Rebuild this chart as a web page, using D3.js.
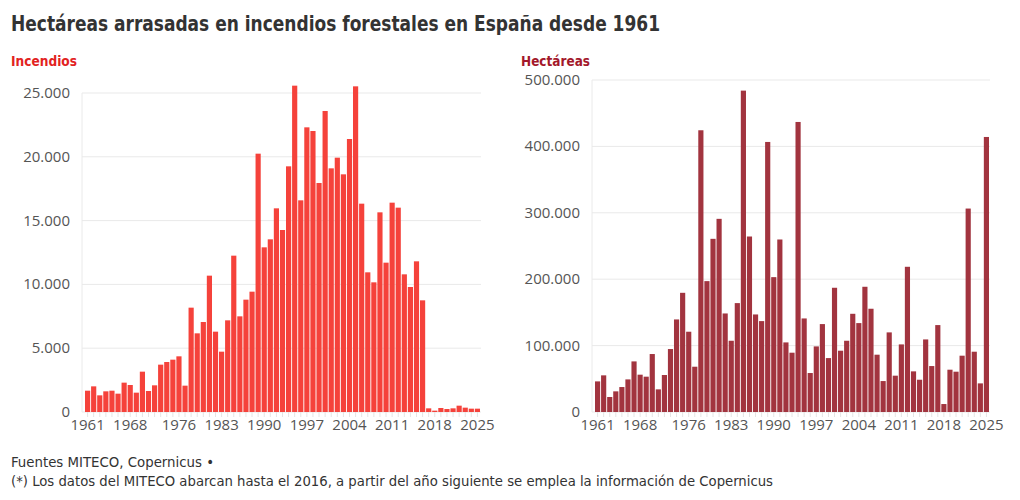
<!DOCTYPE html>
<html>
<head>
<meta charset="utf-8">
<script src="https://cdn.jsdelivr.net/npm/d3@7"></script>
<style>
  body { margin: 0; background: #fff; }
  svg { display: block; }
  .title { font-family: "Liberation Sans Narrow", "DejaVu Sans Condensed", sans-serif; font-weight: bold; font-size: 22px; fill: #333; }
  .sub { font-family: "Liberation Sans Narrow", "DejaVu Sans Condensed", sans-serif; font-weight: bold; font-size: 14.5px; }
  .note { font-family: "Liberation Sans Narrow", "DejaVu Sans Condensed", sans-serif; font-size: 14.5px; fill: #333; }
  .tick-label { font-family: "Open Sans", sans-serif; font-size: 15px; fill: #555; }
</style>
</head>
<body>
<svg id="chart" width="1020" height="500"></svg>
<script>
  // years 1961-2025
  var years = d3.range(1961, 2026);
  var yearTicks = [1961, 1968, 1976, 1983, 1990, 1997, 2004, 2011, 2018, 2025];

  // number of fires per year
  var incendios = [
    1670, 2010, 1306, 1620, 1670, 1437, 2300, 2116, 1515, 3161,
    1646, 2090, 3710, 3918, 4101, 4363, 2064, 8177, 6165, 7053,
    10685, 6296, 4728, 7184, 12252, 7497, 8804, 9430, 20245, 12905,
    13532, 15961, 14263, 19253, 25575, 16588, 22309, 22022, 17947, 23590,
    19096, 19932, 18626, 21395, 25522, 16327, 10946, 10162, 15648, 11703,
    16405, 16014, 10789, 9796, 11808, 8751, 287, 105, 313, 235,
    287, 496, 340, 261, 261
  ];

  // hectares burned per year
  var hectareas = [
    46100, 55200, 22600, 31100, 37600, 49100, 76200, 56200, 53200, 87300,
    34100, 55700, 94800, 139400, 179500, 120900, 68200, 424300, 197100, 260800,
    290900, 148400, 107300, 164000, 484000, 264300, 146900, 136900, 406700, 203100,
    259800, 104800, 89300, 436800, 140900, 58700, 98800, 132400, 81200, 187100,
    92300, 107300, 147900, 133900, 188600, 155500, 86300, 46600, 119900, 54700,
    101800, 218700, 61200, 48600, 109300, 69200, 130900, 12000, 63700, 60700,
    84800, 306400, 90800, 43100, 414200
  ];

  var leftTicks = [0, 5000, 10000, 15000, 20000, 25000];
  var rightTicks = [0, 100000, 200000, 300000, 400000, 500000];

  var locale = d3.formatLocale({decimal: ",", thousands: ".", grouping: [3], currency: ["", " €"]});
  var fmt = locale.format(",d");

  var svg = d3.select('#chart');

  svg.append('text').attr('class', 'title').attr('x', 11).attr('y', 31)
    .attr('textLength', 649).attr('lengthAdjust', 'spacingAndGlyphs')
    .text('Hectáreas arrasadas en incendios forestales en España desde 1961');

  // draw one bar panel
  function panel(opts) {
    var g = svg.append('g');
    var x = d3.scaleBand().domain(years).range([opts.x0 + 3, opts.x1 - 1]).paddingInner(0.15);
    var y = d3.scaleLinear().domain([0, opts.max]).range([412, opts.top]);

    g.append('text').attr('class', 'sub').attr('x', opts.labelX).attr('y', 66)
      .attr('textLength', opts.labelW).attr('lengthAdjust', 'spacingAndGlyphs')
      .attr('fill', opts.labelColor).text(opts.label);

    // gridlines
    g.selectAll('.grid').data(opts.ticks).enter().append('line')
      .attr('x1', opts.x0).attr('x2', opts.x1)
      .attr('y1', function (d) { return y(d); }).attr('y2', function (d) { return y(d); })
      .attr('stroke', '#e9e9e9').attr('stroke-width', 1);

    // left axis line
    g.append('line').attr('x1', opts.x0).attr('x2', opts.x0)
      .attr('y1', opts.top).attr('y2', 412).attr('stroke', '#eaeaea');

    // y labels
    g.selectAll('.ylab').data(opts.ticks).enter().append('text')
      .attr('class', 'tick-label')
      .attr('x', opts.x0 - 12).attr('y', function (d) { return y(d) + 5; })
      .attr('text-anchor', 'end')
      .text(function (d) { return fmt(d); });

    // minor year ticks
    g.selectAll('.yt').data(years).enter().append('line')
      .attr('x1', function (d) { return x(d) + x.bandwidth() / 2; })
      .attr('x2', function (d) { return x(d) + x.bandwidth() / 2; })
      .attr('y1', 412).attr('y2', 417)
      .attr('stroke', '#e4e4e4');

    // bars
    g.selectAll('.bar').data(opts.values).enter().append('rect')
      .attr('x', function (d, i) { return x(years[i]); })
      .attr('width', x.bandwidth())
      .attr('y', function (d) { return y(d); })
      .attr('height', function (d) { return 412 - y(d); })
      .attr('fill', opts.color);

    // x labels
    g.selectAll('.xlab').data(yearTicks).enter().append('text')
      .attr('class', 'tick-label')
      .attr('x', function (d) { return x(d) + x.bandwidth() / 2; })
      .attr('y', 430)
      .attr('text-anchor', 'middle')
      .text(function (d) { return d; });
  }

  panel({x0: 82, x1: 481, top: 93, max: 25000, ticks: leftTicks, values: incendios,
    color: '#f5423b', label: 'Incendios', labelColor: '#e2231f', labelX: 11, labelW: 66});
  panel({x0: 592, x1: 990, top: 80, max: 500000, ticks: rightTicks, values: hectareas,
    color: '#a2343f', label: 'Hectáreas', labelColor: '#a3182b', labelX: 521, labelW: 69});

  svg.append('text').attr('class', 'note').attr('x', 11).attr('y', 467)
    .attr('textLength', 203).attr('lengthAdjust', 'spacingAndGlyphs')
    .text('Fuentes MITECO, Copernicus •');
  svg.append('text').attr('class', 'note').attr('x', 11).attr('y', 486)
    .attr('textLength', 762).attr('lengthAdjust', 'spacingAndGlyphs')
    .text('(*) Los datos del MITECO abarcan hasta el 2016, a partir del año siguiente se emplea la información de Copernicus');
</script>
</body>
</html>
